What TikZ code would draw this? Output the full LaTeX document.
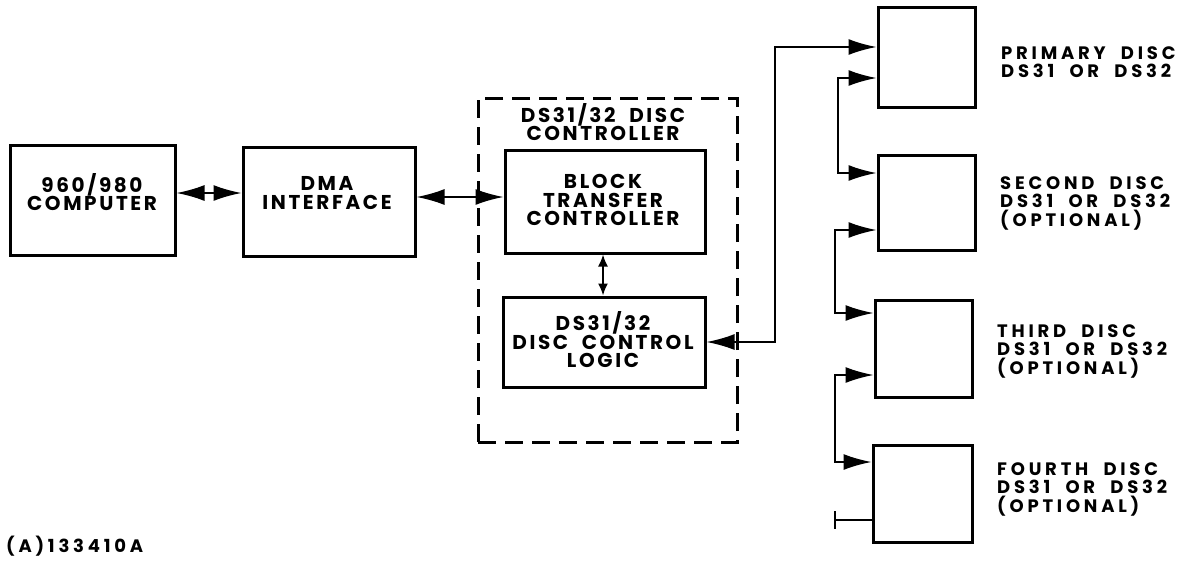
\documentclass[tikz,border=0pt]{standalone}
\usepackage{fontspec}
\setmainfont{Poppins}
\newfontfamily\mainf{Poppins}[LetterSpace=13,WordSpace=2]
\newfontfamily\discf{Poppins}[LetterSpace=21,WordSpace=2]
\usetikzlibrary{arrows.meta}
\tikzset{
  box/.style={draw, line width=3pt, inner sep=0pt},
  dbox/.style={draw, line width=3pt, inner sep=0pt, dash pattern=on 18pt off 9pt},
  conn/.style={line width=1.8pt, {Latex[length=28pt,width=16pt]}-{Latex[length=28pt,width=16pt]}},
  sconn/.style={line width=1.8pt, {Latex[length=12pt,width=10pt]}-{Latex[length=12pt,width=10pt]}},
  lbl/.style={font=\mainf\bfseries\fontsize{20}{18.5}\selectfont, align=center, inner sep=0pt},
  dlbl/.style={font=\discf\bfseries\fontsize{18}{18.5}\selectfont, align=left, inner sep=0pt, anchor=west},
}
\begin{document}
\begin{tikzpicture}[x=1pt,y=-1pt]
\useasboundingbox (0,0) rectangle (1190,562);
% boxes
\node[box, minimum width=165pt, minimum height=110pt] (comp) at (92.5,200) {};
\node[box, minimum width=172pt, minimum height=109pt] (dma) at (329,201.5) {};
\node[dbox, minimum width=259pt, minimum height=344pt] (ctrl) at (607.5,270) {};
\node[box, minimum width=200pt, minimum height=103pt] (btc) at (605,201.5) {};
\node[box, minimum width=202pt, minimum height=90pt] (dcl) at (604,342) {};
\node[box, minimum width=97pt, minimum height=100pt] (d1) at (926.5,57) {};
\node[box, minimum width=97pt, minimum height=95pt] (d2) at (926.5,202.5) {};
\node[box, minimum width=97pt, minimum height=97pt] (d3) at (923.5,348.5) {};
\node[box, minimum width=99pt, minimum height=97pt] (d4) at (922.5,493.5) {};
% texts
\node[lbl] (tcomp) at (92,192) {960/980\\COMPUTER};
\node[lbl] (tdma) at (327,193) {DMA\\INTERFACE};
\node[lbl] (tctrl) at (603,122) {DS31/32 DISC\\CONTROLLER};
\node[lbl] (tbtc) at (603,200) {BLOCK\\TRANSFER\\CONTROLLER};
\node[lbl] (tdcl) at (603,340) {DS31/32\\DISC CONTROL\\LOGIC};
\node[dlbl] (l1) at (1001,62) {PRIMARY DISC\\DS31 OR DS32};
\node[dlbl] (l2) at (1000,203) {SECOND DISC\\DS31 OR DS32\\(OPTIONAL)};
\node[dlbl] (l3) at (997,351) {THIRD DISC\\DS31 OR DS32\\(OPTIONAL)};
\node[dlbl] (l4) at (997,489) {FOURTH DISC\\DS31 OR DS32\\(OPTIONAL)};
\node[dlbl] (fig) at (6,546) {(A)133410A};
% connectors
\draw[conn] (comp.east |- 0,193) -- (dma.west |- 0,193);
\draw[conn] (dma.east |- 0,197) -- (btc.west |- 0,197);
\draw[sconn] (btc.south -| 603,0) -- (dcl.north -| 603,0);
\coordinate (b1) at (775,342);
\coordinate (b2) at (775,47);
\draw[conn] (dcl.east |- b1) -- (b1) -- (b2) -- (d1.west |- b2);
\coordinate (c1) at (838,78);
\coordinate (c2) at (838,173);
\draw[conn] (d1.west |- c1) -- (c1) -- (c2) -- (d2.west |- c2);
\coordinate (e1) at (835,230);
\coordinate (e2) at (835,313);
\draw[conn] (d2.west |- e1) -- (e1) -- (e2) -- (d3.west |- e2);
\coordinate (f1) at (835,375);
\coordinate (f2) at (835,462);
\draw[conn] (d3.west |- f1) -- (f1) -- (f2) -- (d4.west |- f2);
\coordinate (t1) at (835,520);
\draw[line width=1.8pt] (d4.west |- t1) -- (t1);
\draw[line width=1.8pt] (835,511) -- (835,529);
\end{tikzpicture}
\end{document}
